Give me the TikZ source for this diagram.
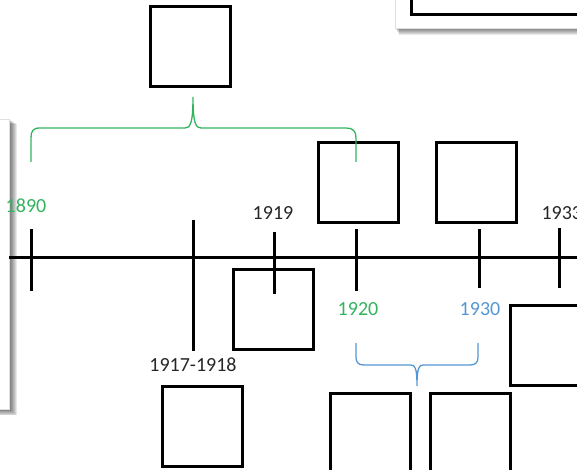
\documentclass[tikz,border=0pt]{standalone}
\usepackage{fontspec}
\setmainfont{Carlito}
\definecolor{brgreen}{RGB}{50,180,95}
\definecolor{brblue}{RGB}{85,150,210}
\begin{document}
\begin{tikzpicture}[x=1pt, y=-1pt, line width=3pt,
  box/.style={draw, minimum size=80pt, inner sep=0pt},
  panel/.style={fill=white, draw=black!12, line width=0.8pt},
  year/.style={font=\fontsize{20}{24}\selectfont, text=black!85, inner sep=1pt},
  gbrace/.style={brgreen, line width=1.3pt},
  bbrace/.style={brblue, line width=1.3pt}]
\useasboundingbox (0,0) rectangle (577,470);
\clip (0,0) rectangle (577,470);
% windows behind the timeline
\foreach \i in {1,...,8}
  \fill[black, opacity=.09] (-20,119+\i*0.6) rectangle (9+\i,409+\i*0.8);
\draw[panel] (-20,119) rectangle (9,409);
\foreach \i in {1,...,7}
  \fill[black, opacity=.09] (395+\i*0.6,-20) rectangle (600,28+\i);
\draw[panel] (395,-20) rectangle (600,28);
\node[box, minimum width=200pt, minimum height=200pt] (B_corner) at (511.5,-85.5) {};
% timeline
\coordinate (L_s) at (9,257);
\coordinate (L_e) at (577,257);
\draw (L_s) -- (L_e);
\coordinate (K_1890a) at (31,229);
\coordinate (K_1890b) at (31,291);
\draw (K_1890a) -- (K_1890b);
\coordinate (K_1917a) at (193,220);
\coordinate (K_1917b) at (193,351);
\draw (K_1917a) -- (K_1917b);
\coordinate (K_1919a) at (274,232);
\coordinate (K_1919b) at (274,294);
\draw (K_1919a) -- (K_1919b);
\coordinate (K_1920a) at (356,229);
\coordinate (K_1920b) at (356,291);
\draw (K_1920a) -- (K_1920b);
\coordinate (K_1930a) at (479,229);
\coordinate (K_1930b) at (479,288);
\draw (K_1930a) -- (K_1930b);
\coordinate (K_1933a) at (559,228);
\coordinate (K_1933b) at (559,288);
\draw (K_1933a) -- (K_1933b);
% years
\node[year, text=brgreen] (Y_1890) at (26,206) {1890};
\node[year] (Y_1919) at (273,213) {1919};
\node[year, anchor=west] (Y_1933) at (539,213) {1933};
\node[year] (Y_1917) at (193,365) {1917-1918};
\node[year, text=brgreen] (Y_1920) at (358,309) {1920};
\node[year, text=brblue] (Y_1930) at (480,309) {1930};
% boxes
\node[box] (B_top) at (190.5,46.5) {};
\node[box] (B_1920) at (358.5,182.5) {};
\node[box] (B_1930) at (476.5,182.5) {};
\node[box] (B_1919) at (273,309) {};
\node[box] (B_1917) at (202,426.5) {};
\node[box] (B_1933) at (550.5,345) {};
\node[box] (B_low1) at (370,433.5) {};
\node[box] (B_low2) at (470.5,433.5) {};
% braces
\draw[gbrace] (31,162) -- (31,138) .. controls (31,131) and (33,128) .. (40,128)
  -- (185,128) .. controls (190,128) and (193,124) .. (193,97)
  .. controls (193,124) and (196,128) .. (201,128)
  -- (346,128) .. controls (353,128) and (356,131) .. (356,138) -- (356,162);
\draw[bbrace] (356,343) -- (356,357) .. controls (356,362) and (358,365) .. (364,365)
  -- (411,365) .. controls (415,365) and (417,368) .. (417,386)
  .. controls (417,368) and (419,365) .. (423,365)
  -- (470,365) .. controls (476,365) and (478,362) .. (478,357) -- (478,343);
\end{tikzpicture}
\end{document}
